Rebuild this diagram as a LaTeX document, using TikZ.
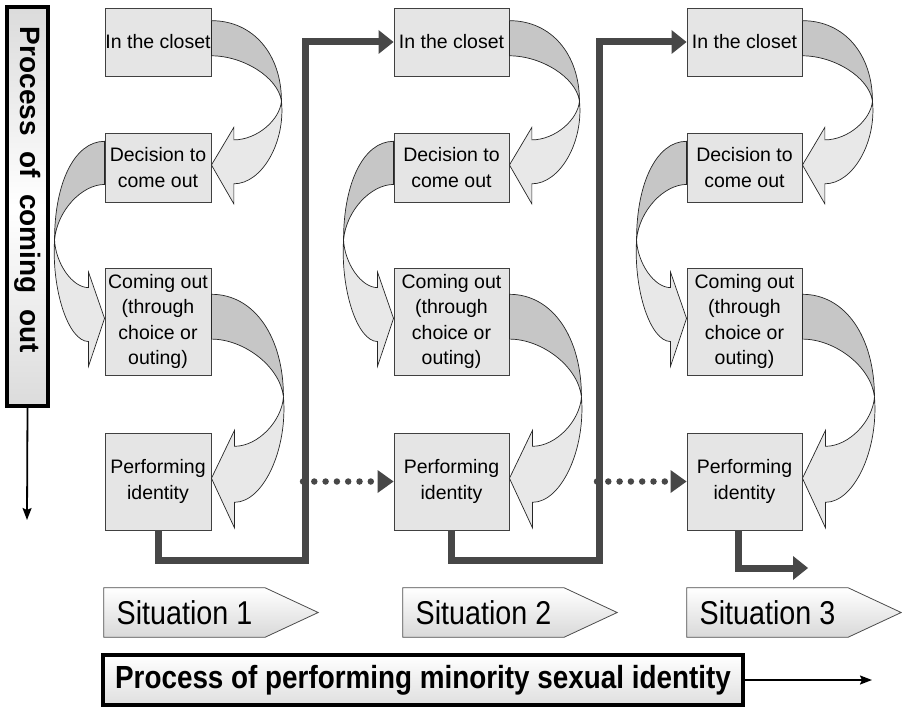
\documentclass[tikz,border=0pt]{standalone}
\usepackage{fontspec}
\setmainfont{Liberation Sans}
\newfontfamily\condsans[FakeStretch=0.87]{Liberation Sans}
\usetikzlibrary{arrows.meta,calc,backgrounds}

% twisted ribbon arrow from one box to the next one below it
\newcommand{\ribbon}[4]{%
  \coordinate (rs) at (#1.#3);
  \coordinate (rt) at (#2.#3);
  \filldraw[ribbonback] ($(rs)!-0.17!(rt)$)
    .. controls ($(rs)!-0.17!(rt)+({0.6*(#4)},0)$) and ($(rs)!0.1!(rt)+(#4,0)$)
    .. ($(rs)!0.47!(rt)+(#4,0)$)
    .. controls ($(rs)!0.28!(rt)+({0.95*(#4)},0)$) and ($(rs)!0.11!(rt)+({0.45*(#4)},0)$)
    .. ($(rs)!0.11!(rt)$) -- cycle;
  \filldraw[ribbonfront] ($(rs)!0.47!(rt)+(#4,0)$)
    .. controls ($(rs)!0.8!(rt)+({1.06*(#4)},0)$) and ($(rs)!1.13!(rt)+({0.72*(#4)},0)$)
    .. ($(rs)!1.13!(rt)+({0.32*(#4)},0)$)
    -- ($(rs)!1.29!(rt)+({0.32*(#4)},0)$)
    -- ($(rs)!0.98!(rt)$)
    -- ($(rs)!0.68!(rt)+({0.32*(#4)},0)$)
    -- ($(rs)!0.78!(rt)+({0.32*(#4)},0)$)
    .. controls ($(rs)!0.78!(rt)+({0.65*(#4)},0)$) and ($(rs)!0.62!(rt)+({0.98*(#4)},0)$)
    .. ($(rs)!0.47!(rt)+(#4,0)$) -- cycle;
}

\begin{document}
\begin{tikzpicture}
[x=1pt,y=-1pt,
 stage/.style={draw=black!75,line width=0.9pt,fill=gray!20,inner sep=0pt,
   align=center,font=\fontsize{19.5}{25.5}\selectfont},
 ribbonback/.style={draw=black!85,line width=0.7pt,fill=gray!45},
 ribbonfront/.style={draw=black!85,line width=0.7pt,fill=gray!18},
 bigflow/.style={draw=black!72,line width=7pt,
   -{Triangle[length=15pt 0 0,width=24pt 0 0,line width=0pt 0 0]}},
 dotflow/.style={draw=black!72,line width=6.5pt,line cap=round,
   dash pattern=on 0pt off 11.3pt,
   -{Triangle[length=16pt 0 0,width=23pt 0 0,line width=0pt 0 0]}},
 thinflow/.style={draw=black,line width=1.8pt,
   -{Stealth[length=12pt 0 0,width=9pt 0 0,inset=2pt]}},
 sitlabel/.style={inner sep=0pt,minimum width=161pt,minimum height=49pt,
   font=\condsans\fontsize{33}{36}\selectfont},
 sitshape/.style={draw=black!70,line width=0.8pt,top color=white,bottom color=gray!30},
 titlebar/.style={draw=black,line width=3.5pt,inner sep=0pt}]
\useasboundingbox (0,0) rectangle (902,709);

%% stages of each situation
\foreach \c/\x/\w in {1/158/106, 2/451.5/115, 3/744.5/115}
{
  \node[stage,minimum width=\w pt,minimum height=68pt] (closet\c) at (\x,42) {In the closet};
  \node[stage,minimum width=\w pt,minimum height=69pt] (decide\c) at (\x,167.5) {Decision to\\come out};
  \node[stage,minimum width=\w pt,minimum height=107pt] (comeout\c) at (\x,321.5) {Coming out\\(through\\choice or\\outing)};
  \node[stage,minimum width=\w pt,minimum height=97pt] (perform\c) at (\x,481.5) {Performing\\identity};
  \ribbon{closet\c}{decide\c}{east}{70}
  \ribbon{decide\c}{comeout\c}{west}{-50}
  \ribbon{comeout\c}{perform\c}{east}{72}
}

%% situation labels
\foreach \c/\x in {1/184.5, 2/483.5, 3/767.5}
{
  \node[sitlabel] (sit\c) at (\x,612.5) {Situation \c};
  \begin{scope}[on background layer]
    \path[sitshape] (sit\c.north west) -- (sit\c.north east) -- ($(sit\c.east)+(53,0)$)
      -- (sit\c.south east) -- (sit\c.south west) -- cycle;
  \end{scope}
}

%% links between situations
\coordinate (jump1) at (305,560);
\coordinate (jump2) at (599,560);
\coordinate (flowend) at (808,568);
\draw[bigflow] (perform1.south) |- (jump1) |- (closet2.west);
\draw[bigflow] (perform2.south) |- (jump2) |- (closet3.west);
\draw[bigflow] ($(perform3.south)+(-6,0)$) |- (flowend);
\draw[dotflow] ($(jump1 |- perform2.west)+(-2,0)$) -- (perform2.west);
\draw[dotflow] ($(jump2 |- perform3.west)+(-2,0)$) -- (perform3.west);

%% the two processes
\node[titlebar,rotate=-90,minimum width=399pt,minimum height=41pt,
  top color=gray!28,bottom color=gray!28,middle color=white,
  font=\bfseries\fontsize{28}{30}\selectfont] (comebar) at (27.5,206.5)
  {\makebox[399pt][l]{\hspace{20pt}\makebox[326pt][s]{Process of coming out}}};
\coordinate (comeend) at (27,520);
\draw[thinflow] (comebar.east) -- (comeend);

\node[titlebar,minimum width=640pt,minimum height=50pt,
  top color=white,bottom color=gray!25,
  font=\condsans\bfseries\fontsize{32}{36}\selectfont] (perfbar) at (423,680)
  {Process of performing minority sexual identity};
\coordinate (perfend) at (872,680);
\draw[thinflow] (perfbar.east) -- (perfend);
\end{tikzpicture}
\end{document}
